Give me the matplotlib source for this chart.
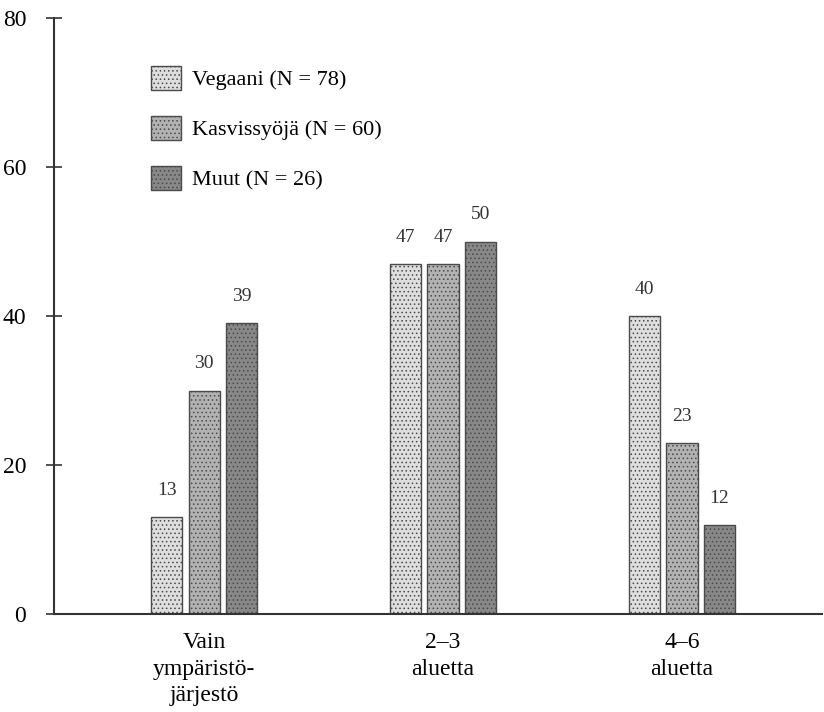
import matplotlib
matplotlib.use("Agg")
import matplotlib.pyplot as plt
import numpy as np

categories = ["Vain\nympäristö-\njärjestö", "2–3\naluetta", "4–6\naluetta"]
series_names = ["Vegaani (N = 78)", "Kasvissyöjä (N = 60)", "Muut (N = 26)"]
vegaani = [13, 47, 40]
kasvissyoja = [30, 47, 23]
muut = [39, 50, 12]
yticks = [0, 20, 40, 60, 80]

plt.rcParams['font.family'] = ['Liberation Serif', 'DejaVu Serif']
plt.rcParams['hatch.color'] = '#666666'
plt.rcParams['hatch.linewidth'] = 0.6

fig = plt.figure(figsize=(8.24, 7.12), dpi=100)
ax = fig.add_axes([54/824, 1-614/712, 768/824, 596/712])

colors = ["#dedede", "#b2b2b2", "#888888"]
series = [vegaani, kasvissyoja, muut]
x = np.arange(len(categories))
width = 0.13
offset = 0.157
for i, (vals, name, c) in enumerate(zip(series, series_names, colors)):
    pos = x + (i - 1) * offset
    ax.bar(pos, vals, width, color=c, edgecolor="#4a4a4a", linewidth=1.0,
           label=name, hatch="....", zorder=2)
    for p, v in zip(pos, vals):
        ax.annotate(str(v), (p, v), xytext=(0, 13), textcoords="offset points",
                    ha="center", va="bottom", fontsize=14, color="#333333")

ax.set_xlim(-0.628, 2.586)
ax.set_ylim(0, 80)
ax.set_yticks(yticks)
ax.set_yticklabels([str(t) for t in yticks], fontsize=17)
ax.set_xticks(x)
ax.set_xticklabels(categories, fontsize=17, linespacing=1.35)
ax.tick_params(axis="x", length=0, pad=13)
ax.tick_params(axis="y", direction="inout", length=12, width=1.2, color="#333333", pad=14)
for s in ["top", "right"]:
    ax.spines[s].set_visible(False)
for s in ["left", "bottom"]:
    ax.spines[s].set_linewidth(1.5)
    ax.spines[s].set_color("#333333")
    ax.spines[s].set_zorder(3)

leg = ax.legend(loc="upper left", bbox_to_anchor=(0.115, 0.935), frameon=False,
                fontsize=16, handlelength=1.35, handleheight=1.3,
                labelspacing=1.15, handletextpad=0.5, borderaxespad=0)

fig.savefig("out.png", dpi=100)
